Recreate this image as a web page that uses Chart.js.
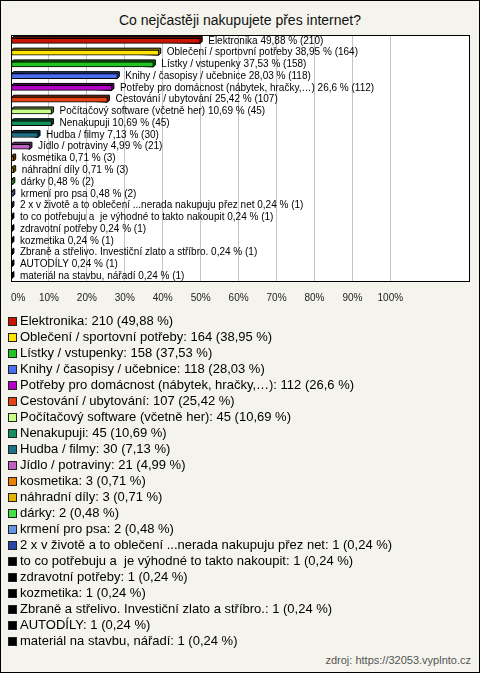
<!DOCTYPE html>
<html lang="cs">
<head>
<meta charset="utf-8">
<title>Co nejčastěji nakupujete přes internet?</title>
<script src="https://cdn.jsdelivr.net/npm/chart.js@4.4.0/dist/chart.umd.min.js"></script>
<style>
  html, body { margin: 0; padding: 0; }
  body { position: relative; width: 480px; height: 673px; background: #f4f4ec; font-family: Arial, "Liberation Sans", sans-serif; overflow: hidden; }
  #frame { position: absolute; left: 0; top: 0; width: 478px; height: 671px; border: 1px solid #000; pointer-events: none; }
  #title { position: absolute; left: 0; top: 12px; width: 480px; text-align: center; font-size: 14px; color: #111; }
  #chart { position: absolute; left: 0; top: 0; }
  #legend { position: absolute; left: 8px; top: 313px; margin: 0; padding: 0; list-style: none; font-size: 13px; color: #000; }
  #legend li { height: 16px; line-height: 16px; white-space: pre; }
  #legend .sw { display: inline-block; width: 7px; height: 7px; border: 1px solid #222; margin-right: 3px; vertical-align: -1px; }
  #source { position: absolute; right: 9px; top: 654px; font-size: 11px; color: #555; }
</style>
</head>
<body>
<div id="title">Co nejčastěji nakupujete přes internet?</div>
<canvas id="chart" width="480" height="318"></canvas>
<ul id="legend"></ul>
<div id="source">zdroj: https://32053.vyplnto.cz</div>
<div id="frame"></div>
<script>
// answers, counts and shares as shown in the picture
const categories = [
    'Elektronika',
    'Oblečení / sportovní potřeby',
    'Lístky / vstupenky',
    'Knihy / časopisy / učebnice',
    'Potřeby pro domácnost (nábytek, hračky,…)',
    'Cestování / ubytování',
    'Počítačový software (včetně her)',
    'Nenakupuji',
    'Hudba / filmy',
    'Jídlo / potraviny',
    'kosmetika',
    'náhradní díly',
    'dárky',
    'krmení pro psa',
    '2 x v životě a to oblečení ...nerada nakupuju přez net',
    'to co potřebuju a  je výhodné to takto nakoupit',
    'zdravotní potřeby',
    'kozmetika',
    'Zbraně a střelivo. Investiční zlato a stříbro.',
    'AUTODÍLY',
    'materiál na stavbu, nářadí'
];
const counts = [210, 164, 158, 118, 112, 107, 45, 45, 30, 21, 3, 3, 2, 2, 1, 1, 1, 1, 1, 1, 1];
const percents = [49.88, 38.95, 37.53, 28.03, 26.6, 25.42, 10.69, 10.69, 7.13, 4.99, 0.71, 0.71, 0.48, 0.48, 0.24, 0.24, 0.24, 0.24, 0.24, 0.24, 0.24];
const barColors = [
    '#c81400', '#ffe400', '#22c422', '#4a6ef0', '#b400c8', '#e44414', '#c8ff84',
    '#14905c', '#1e7086', '#c060c0', '#e88000', '#e0b400', '#44e044', '#6894e4',
    '#2a46a8', '#000000', '#000000', '#000000', '#000000', '#000000', '#000000'
];
const xTicks = [0, 10, 20, 30, 40, 50, 60, 70, 80, 90, 100];
const xMax = 121;

const fmt = v => String(v).replace('.', ',');

// legend below the chart
const legendEl = document.getElementById('legend');
categories.forEach((c, i) => {
    const li = document.createElement('li');
    const sw = document.createElement('span');
    sw.className = 'sw';
    sw.style.background = barColors[i];
    li.appendChild(sw);
    li.appendChild(document.createTextNode(c + ': ' + counts[i] + ' (' + fmt(percents[i]) + ' %)'));
    legendEl.appendChild(li);
});

const shade = (hex, k) => {
    const n = parseInt(hex.slice(1), 16);
    const r = Math.round(((n >> 16) & 255) * k), g = Math.round(((n >> 8) & 255) * k), b = Math.round((n & 255) * k);
    return 'rgb(' + r + ',' + g + ',' + b + ')';
};

const plotBox = {
    id: 'plotBox',
    beforeDraw(chart) {
        const a = chart.chartArea, ctx = chart.ctx;
        ctx.save();
        ctx.fillStyle = '#ffffff';
        ctx.fillRect(a.left, a.top, a.right - a.left, a.bottom - a.top);
        ctx.restore();
    },
    afterDraw(chart) {
        const a = chart.chartArea, ctx = chart.ctx;
        ctx.save();
        ctx.strokeStyle = '#000';
        ctx.lineWidth = 1;
        ctx.strokeRect(Math.round(a.left) + 0.5, Math.round(a.top) + 0.5, Math.round(a.right - a.left) - 1, Math.round(a.bottom - a.top) - 1);
        ctx.restore();
    }
};

// fake 3d depth behind each bar
const depth = 2;
const bar3d = {
    id: 'bar3d',
    beforeDatasetsDraw(chart) {
        const ctx = chart.ctx;
        chart.getDatasetMeta(0).data.forEach((bar, i) => {
            const p = bar.getProps(['x', 'y', 'base', 'height'], true);
            const top = p.y - p.height / 2, bottom = p.y + p.height / 2;
            ctx.save();
            ctx.fillStyle = shade(barColors[i], 0.45);
            ctx.strokeStyle = '#000';
            ctx.lineWidth = 1;
            ctx.beginPath();
            ctx.moveTo(p.base, top);
            ctx.lineTo(p.base + depth, top - depth);
            ctx.lineTo(p.x + depth, top - depth);
            ctx.lineTo(p.x + depth, bottom - depth);
            ctx.lineTo(p.x, bottom);
            ctx.closePath();
            ctx.fill();
            ctx.stroke();
            ctx.restore();
        });
    },
    afterDatasetsDraw(chart) {
        const ctx = chart.ctx;
        ctx.save();
        ctx.font = '10px Arial, "Liberation Sans", sans-serif';
        ctx.fillStyle = '#000';
        ctx.textBaseline = 'middle';
        chart.getDatasetMeta(0).data.forEach((bar, i) => {
            const p = bar.getProps(['x', 'y'], true);
            ctx.fillText(categories[i] + ' ' + fmt(percents[i]) + ' % (' + counts[i] + ')', p.x + 8, p.y);
        });
        ctx.restore();
    }
};

new Chart(document.getElementById('chart'), {
    type: 'bar',
    data: {
        labels: categories,
        datasets: [{
            data: percents,
            backgroundColor: barColors,
            borderColor: '#000',
            borderWidth: 1,
            borderSkipped: false,
            barThickness: 5
        }]
    },
    options: {
        indexAxis: 'y',
        responsive: false,
        animation: false,
        layout: { padding: { top: 35, left: 11, right: 9, bottom: 4 } },
        plugins: { legend: { display: false }, tooltip: { enabled: false }, title: { display: false } },
        scales: {
            y: { display: false },
            x: {
                min: 0,
                max: xMax,
                border: { display: false },
                afterBuildTicks: s => { s.ticks = xTicks.concat([xMax]).map(v => ({ value: v })); },
                grid: {
                    drawTicks: false,
                    color: c => (c.tick && c.tick.value > 0 && c.tick.value <= 100) ? '#c4c4c4' : 'rgba(0,0,0,0)'
                },
                ticks: {
                    align: 'inner',
                    padding: 10,
                    color: '#222',
                    font: { size: 10, family: 'Arial' },
                    callback: v => v <= 100 ? v + '%' : ''
                }
            }
        }
    },
    plugins: [plotBox, bar3d]
});
</script>
</body>
</html>
